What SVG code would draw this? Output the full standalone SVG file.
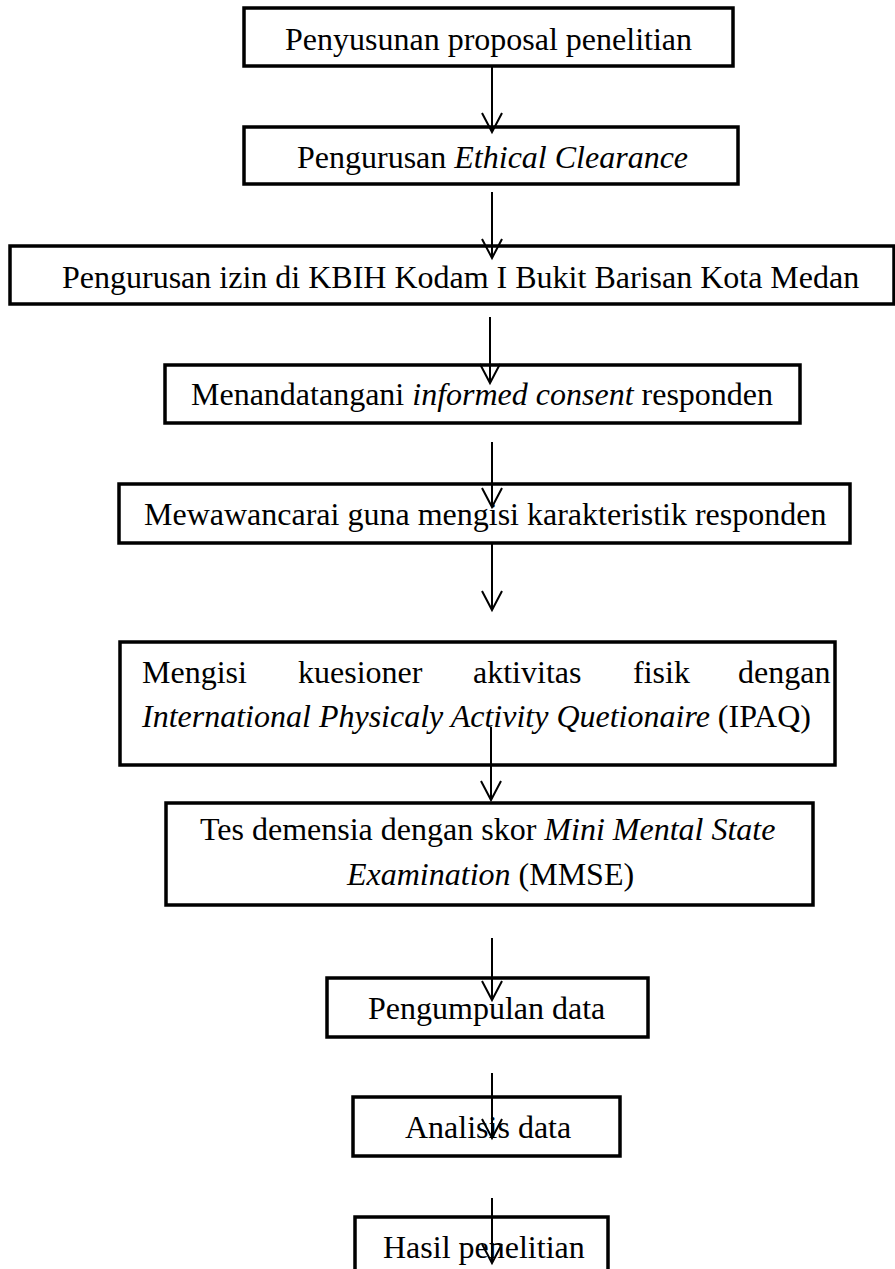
<svg xmlns="http://www.w3.org/2000/svg" width="895" height="1269" viewBox="0 0 895 1269">
<defs>
<style>
.box{fill:#fff;stroke:#000;stroke-width:3.5}
.t{font-family:"Liberation Serif","Times New Roman",serif;font-size:32px;fill:#000}
.i{font-style:italic}
.c{stroke:#000;stroke-width:2;fill:none;marker-end:url(#ah)}
</style>
<marker id="ah" markerUnits="userSpaceOnUse" markerWidth="40" markerHeight="40" refX="0" refY="0" orient="auto" overflow="visible">
<path d="M-19,-10 L0,0 L-19,10" fill="none" stroke="#000" stroke-width="2"/>
</marker>
</defs>
<g id="n1"><rect class="box" x="244" y="8" width="489" height="58"/><text class="t" x="285" y="50">Penyusunan proposal penelitian</text></g>
<g id="n2"><rect class="box" x="244" y="127" width="494" height="57"/><text class="t" x="297" y="168">Pengurusan <tspan class="i">Ethical Clearance</tspan></text></g>
<g id="n3"><rect class="box" x="10" y="246" width="884" height="58"/><text class="t" x="62" y="288">Pengurusan izin di KBIH Kodam I Bukit Barisan Kota Medan</text></g>
<g id="n4"><rect class="box" x="165" y="365" width="635" height="58"/><text class="t" x="191" y="405">Menandatangani <tspan class="i">informed consent</tspan> responden</text></g>
<g id="n5"><rect class="box" x="119" y="484" width="731" height="59"/><text class="t" x="144" y="525">Mewawancarai guna mengisi karakteristik responden</text></g>
<g id="n6"><rect class="box" x="120" y="642" width="715" height="123"/>
<text class="t" y="683"><tspan x="142">Mengisi</tspan><tspan x="298">kuesioner</tspan><tspan x="473">aktivitas</tspan><tspan x="633">fisik</tspan><tspan x="738">dengan</tspan></text>
<text class="t" x="142" y="727"><tspan class="i">International Physicaly Activity Quetionaire</tspan> (IPAQ)</text></g>
<g id="n7"><rect class="box" x="166" y="803" width="647" height="102"/><text class="t" x="200" y="840">Tes demensia dengan skor <tspan class="i">Mini Mental State</tspan></text><text class="t" x="347" y="885"><tspan class="i">Examination</tspan> (MMSE)</text></g>
<g id="n8"><rect class="box" x="327" y="978" width="321" height="59"/><text class="t" x="368" y="1019">Pengumpulan data</text></g>
<g id="n9"><rect class="box" x="353" y="1097" width="267" height="59"/><text class="t" x="405" y="1138">Analisis data</text></g>
<g id="n10"><rect class="box" x="355" y="1217" width="253" height="70"/><text class="t" x="383" y="1258">Hasil penelitian</text></g>
<g id="connectors">
<line class="c" x1="492" y1="66" x2="492" y2="132"/>
<line class="c" x1="492" y1="192" x2="492" y2="258"/>
<line class="c" x1="490" y1="317" x2="490" y2="383"/>
<line class="c" x1="492" y1="442" x2="492" y2="507"/>
<line class="c" x1="492" y1="543" x2="492" y2="610"/>
<line class="c" x1="491" y1="727" x2="491" y2="800"/>
<line class="c" x1="492" y1="938" x2="492" y2="1000"/>
<line class="c" x1="492" y1="1073" x2="492" y2="1138"/>
<line class="c" x1="492" y1="1198" x2="492" y2="1263"/>
</g>
</svg>
